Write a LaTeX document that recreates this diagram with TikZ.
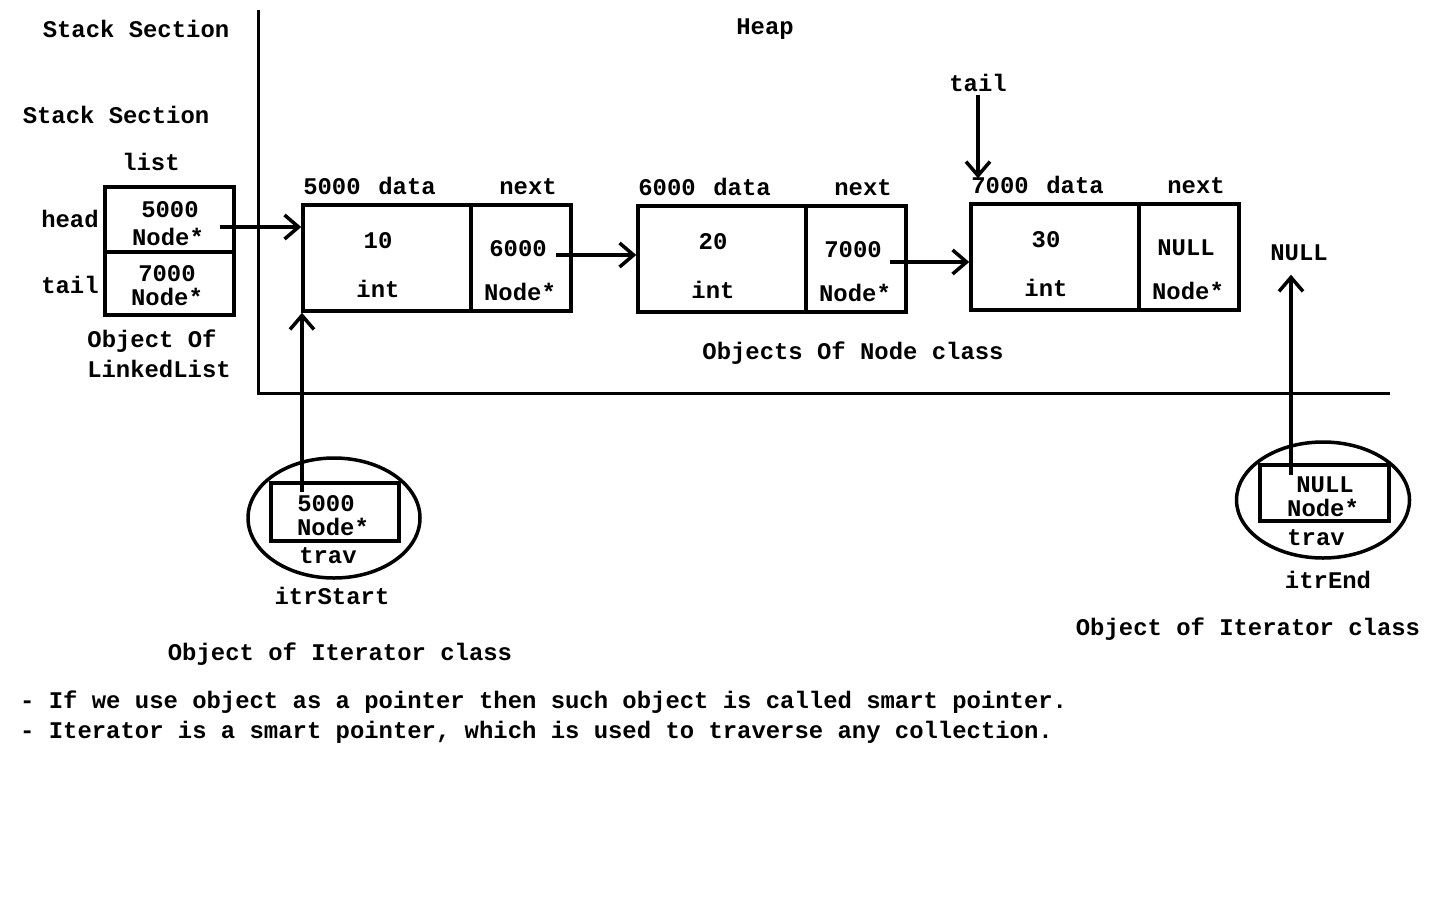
\documentclass[tikz,border=0pt]{standalone}
\usepackage{fontspec}
\setmonofont{Liberation Mono}
\usetikzlibrary{arrows.meta,shapes.geometric}

\tikzset{
 lbl/.style={font=\ttfamily\bfseries\fontsize{23.9}{26}\selectfont,inner sep=0pt,text height=13pt,text depth=0pt},
 cell/.style={draw,line width=3.5pt,inner sep=0pt},
 arr/.style={line width=3.5pt,-{Straight Barb[length=14pt,width=24pt,line width=3.5pt]}},
 itr/.style={draw,ellipse,line width=3.5pt,inner sep=0pt}
}

\begin{document}
\begin{tikzpicture}[x=1pt,y=-1pt]
 \useasboundingbox (0,0) rectangle (1440,900);
 % stack / heap separation
 \draw[line width=3pt] (258,10) -- (258,393) -- (1390,393);
 \node[lbl] (stk1) at (136,31) {Stack Section};
 \node[lbl] (heap) at (765,28) {Heap};
 \node[lbl] (stk2) at (116,117) {Stack Section};
 % list object on the stack
 \node[lbl] (list) at (151,164) {list};
 \node[cell,minimum width=129pt,minimum height=65pt] (hcell) at (169.5,219.5) {};
 \node[cell,minimum width=129pt,minimum height=63pt] (tcell) at (169.5,283.5) {};
 \node[lbl] (headlbl) at (70,221) {head};
 \node[lbl] (taillbl) at (70,287) {tail};
 \node[lbl] (hv) at (170,211) {5000};
 \node[lbl] (ht) at (168,239) {Node*};
 \node[lbl] (tv) at (167,275) {7000};
 \node[lbl] (tt) at (167,299) {Node*};
 \node[lbl] (obj1) at (152,341) {Object Of};
 \node[lbl] (obj2) at (159,371) {LinkedList};
 % node objects on the heap
 \foreach \i/\x/\y/\addr/\val/\nxt in {1/303/205/5000/10/6000,2/638/206/6000/20/7000,3/971/204/7000/30/NULL} {
  \node[cell,minimum width=168pt,minimum height=106pt] (d\i) at (\x+84,\y+53) {};
  \node[cell,minimum width=100pt,minimum height=106pt] (p\i) at (\x+218,\y+53) {};
  \node[lbl] (a\i) at (\x+29,\y-17) {\addr};
  \node[lbl] (dl\i) at (\x+104,\y-17) {data};
  \node[lbl] (nl\i) at (\x+225,\y-17) {next};
  \node[lbl] (v\i) at (\x+75,\y+37) {\val};
  \node[lbl] (ti\i) at (\x+75,\y+86) {int};
  \node[lbl] (nv\i) at (\x+215,\y+45) {\nxt};
  \node[lbl] (tn\i) at (\x+217,\y+89) {Node*};
 }
 \node[lbl] (objn) at (853,353) {Objects Of Node class};
 \node[lbl] (tailtop) at (978,85) {tail};
 \node[lbl] (nullend) at (1299,254) {NULL};
 % iterator objects
 \node[itr,minimum width=172pt,minimum height=120pt] (itrS) at (334,518) {};
 \node[cell,minimum width=128pt,minimum height=58pt] (travS) at (335,512) {};
 \node[lbl] (sv) at (326,505) {5000};
 \node[lbl] (st) at (333,529) {Node*};
 \node[lbl] (sn) at (328,557) {trav};
 \node[lbl] (snm) at (332,598) {itrStart};
 \node[itr,minimum width=173pt,minimum height=116pt] (itrE) at (1323,500) {};
 \node[cell,minimum width=129pt,minimum height=56pt] (travE) at (1324.5,493) {};
 \node[lbl] (ev) at (1325,486) {NULL};
 \node[lbl] (et) at (1323,510) {Node*};
 \node[lbl] (en) at (1316,539) {trav};
 \node[lbl] (enm) at (1328,582) {itrEnd};
 \node[lbl] (objs) at (340,654) {Object of Iterator class};
 \node[lbl] (obje) at (1248,629) {Object of Iterator class};
 \node[lbl,anchor=west] (note1) at (20,702) {- If we use object as a pointer then such object is called smart pointer.};
 \node[lbl,anchor=west] (note2) at (20,732) {- Iterator is a smart pointer, which is used to traverse any collection.};
 % pointers
 \coordinate (hp) at (220,227);
 \coordinate (q1) at (556,255);
 \coordinate (q2) at (890,262);
 \coordinate (sp) at (302,492);
 \coordinate (ep) at (1291,475);
 \draw[arr] (hp) -- (hp -| d1.west);
 \draw[arr] (q1) -- (q1 -| d2.west);
 \draw[arr] (q2) -- (q2 -| d3.west);
 \draw[arr,shorten <=3pt,shorten >=2pt] (tailtop.south -| 978,0) -- (978,0 |- a3.north);
 \draw[arr] (sp) -- (sp |- d1.south);
 \draw[arr,shorten >=14pt] (ep) -- (ep |- nullend.south);
\end{tikzpicture}
\end{document}
